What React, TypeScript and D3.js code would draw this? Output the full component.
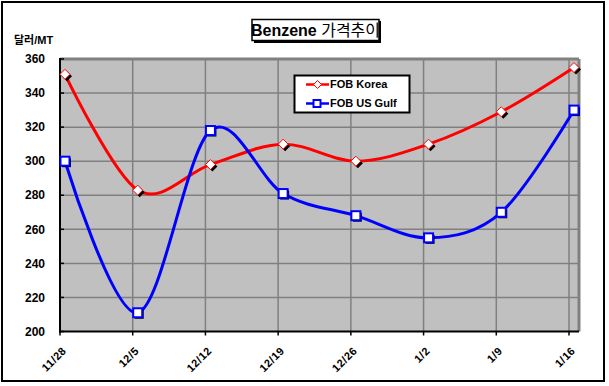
import React from 'react';
import * as d3 from 'd3';

const categories = ['11/28', '12/5', '12/12', '12/19', '12/26', '1/2', '1/9', '1/16'];
const fobKorea = [351, 283, 298, 310, 300, 310, 329, 355];
const fobUsGulf = [300, 211, 318, 281, 268, 255, 270, 330];
const yTicks = [200, 220, 240, 260, 280, 300, 320, 340, 360];

const FONT = '"Liberation Sans", Arial, "Noto Sans CJK KR", sans-serif';

const App: React.FC = () => {
  const width = 609;
  const height = 386;
  const plot = { left: 60, right: 579, top: 59, bottom: 331.5 };

  // category grid positions; markers sit a few pixels to the right like the original
  const x = d3.scalePoint<string>().domain(categories).range([plot.left, 569]);
  const markerShift = 5;
  const y = d3.scaleLinear().domain([200, 360]).range([plot.bottom, plot.top]);

  const line = d3
    .line<number>()
    .x((_, i) => (x(categories[i]) || 0) + markerShift)
    .y(d => y(d))
    .curve(d3.curveCardinal.tension(0));

  const diamond = (cx: number, cy: number, r: number) =>
    `M${cx},${cy - r}L${cx + r},${cy}L${cx},${cy + r}L${cx - r},${cy}Z`;

  return (
    <svg
      width={width}
      height={height}
      style={{ position: 'absolute', left: 0, top: 0, background: '#fff' }}
      fontFamily={FONT}
    >
      {/* outer frame */}
      <rect x={2} y={2} width={602} height={379} fill="#fff" stroke="#000" strokeWidth={2} />

      {/* title */}
      <rect x={254} y={21} width={127} height={22} fill="#000" />
      <rect x={252} y={19.5} width={127} height={21} fill="#fff" stroke="#000" strokeWidth={1.5} />
      <text x={315.5} y={36} textAnchor="middle" fontSize={16} fontWeight="bold" fill="#000">
        Benzene <tspan fontWeight="normal">가격추이</tspan>
      </text>

      {/* unit label */}
      <text x={14} y={44} fontSize={11} fontWeight="bold">달러/MT</text>

      {/* plot background */}
      <rect x={plot.left} y={plot.top} width={plot.right - plot.left} height={plot.bottom - plot.top} fill="#c0c0c0" />

      {/* grid */}
      {yTicks.slice(1).map(t => (
        <line key={'h' + t} x1={plot.left} x2={plot.right} y1={y(t)} y2={y(t)} stroke="#808080" strokeWidth={1.5} />
      ))}
      {categories.slice(1).map(c => (
        <line key={'v' + c} x1={x(c)} x2={x(c)} y1={plot.top} y2={plot.bottom} stroke="#808080" strokeWidth={1.5} />
      ))}

      {/* plot border */}
      <line x1={plot.left} x2={plot.right} y1={plot.top} y2={plot.top} stroke="#808080" strokeWidth={3} />
      <line x1={plot.right} x2={plot.right} y1={plot.top} y2={plot.bottom} stroke="#808080" strokeWidth={3} />
      <line x1={plot.left} x2={plot.left} y1={plot.top - 1} y2={plot.bottom + 1} stroke="#000" strokeWidth={2} />
      <line x1={plot.left - 1} x2={plot.right} y1={plot.bottom} y2={plot.bottom} stroke="#000" strokeWidth={2} />

      {/* ticks */}
      {yTicks.map(t => (
        <g key={'yt' + t}>
          <line x1={plot.left} x2={plot.left + 4} y1={y(t)} y2={y(t)} stroke="#000" strokeWidth={1.5} />
          <text x={45} y={y(t)} dy="0.35em" textAnchor="end" fontSize={12} fontWeight="bold">
            {t}
          </text>
        </g>
      ))}
      {categories.map(c => (
        <g key={'xt' + c}>
          <line x1={x(c)} x2={x(c)} y1={plot.bottom} y2={plot.bottom + 4} stroke="#000" strokeWidth={1.5} />
          <text
            transform={`translate(${(x(c) || 0) + 7},${plot.bottom + 20}) rotate(-45)`}
            textAnchor="end"
            fontSize={11}
            fontWeight="bold"
            letterSpacing={0.5}
          >
            {c}
          </text>
        </g>
      ))}

      {/* series */}
      <path d={line(fobKorea) || ''} fill="none" stroke="#ff0000" strokeWidth={3} />
      <path d={line(fobUsGulf) || ''} fill="none" stroke="#0000ff" strokeWidth={3} />

      {fobKorea.map((v, i) => {
        const cx = (x(categories[i]) || 0) + markerShift;
        const cy = y(v);
        return (
          <g key={'k' + i}>
            <path d={diamond(cx + 2, cy + 2, 5)} fill="#000" />
            <path d={diamond(cx, cy, 5)} fill="#fff" stroke="#ff0000" strokeWidth={1} />
          </g>
        );
      })}
      {fobUsGulf.map((v, i) => {
        const cx = (x(categories[i]) || 0) + markerShift;
        const cy = y(v);
        return (
          <g key={'u' + i}>
            <rect x={cx - 3} y={cy - 3} width={9} height={9} fill="#000" />
            <rect x={cx - 4.5} y={cy - 4.5} width={9} height={9} fill="#fff" stroke="#0000ff" strokeWidth={2} />
          </g>
        );
      })}

      {/* legend */}
      <rect x={294.5} y={75.5} width={115} height={37} fill="#fff" stroke="#000" strokeWidth={2} />
      <line x1={306} x2={329} y1={84.5} y2={84.5} stroke="#ff0000" strokeWidth={2.5} />
      <path d={diamond(317.5, 84.5, 4)} fill="#fff" stroke="#ff0000" strokeWidth={1} />
      <text x={330} y={84.5} dy="0.35em" fontSize={11} fontWeight="bold">FOB Korea</text>
      <line x1={306} x2={329} y1={103.5} y2={103.5} stroke="#0000ff" strokeWidth={2.5} />
      <rect x={313.5} y={100} width={7} height={7} fill="#fff" stroke="#0000ff" strokeWidth={2} />
      <text x={330} y={103.5} dy="0.35em" fontSize={11} fontWeight="bold">FOB US Gulf</text>
    </svg>
  );
};

export default App;
